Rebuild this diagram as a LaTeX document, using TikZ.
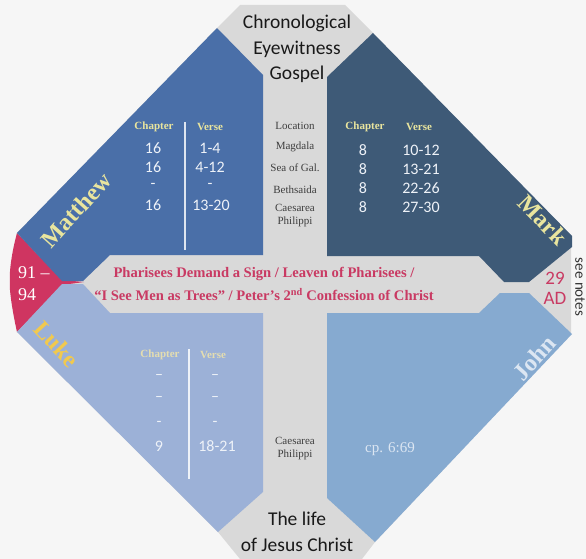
\documentclass[tikz,border=0pt]{standalone}
\usepackage{fontspec}
\setmainfont{Liberation Serif}
\newfontfamily\carl{Carlito}
\definecolor{bgc}{HTML}{F6F6F6}
\definecolor{grayc}{HTML}{D9D9D9}
\definecolor{mattc}{HTML}{4A6FA8}
\definecolor{markc}{HTML}{3E5A77}
\definecolor{lukec}{HTML}{9CB1D7}
\definecolor{johnc}{HTML}{86AAD0}
\definecolor{redc}{HTML}{CF3561}
\definecolor{redt}{HTML}{C93A63}
\definecolor{yel}{HTML}{E9E59E}
\definecolor{lukehdr}{HTML}{E4DDB0}
\definecolor{gold}{HTML}{F1C94E}
\definecolor{numc}{HTML}{EEF2F8}
\definecolor{locc}{HTML}{3E3E3E}
\definecolor{johnt}{HTML}{DCE6F2}
\begin{document}
\begin{tikzpicture}[x=1pt,y=-1pt,
  hdr/.style={font=\fontsize{11}{11}\selectfont\bfseries, text=yel, inner sep=0},
  num/.style={font=\carl\fontsize{16}{16}\selectfont, text=numc, inner sep=0},
  loc/.style={font=\fontsize{11}{13}\selectfont, text=locc, align=center, inner sep=0},
  gospel/.style={font=\fontsize{24}{24}\selectfont\bfseries, inner sep=0},
  title/.style={font=\carl\fontsize{19.5}{25.5}\selectfont, align=center, text=black!90, inner sep=0},
  divider/.style={line width=1.2pt}
]
\useasboundingbox (0,0) rectangle (586,559);
\fill[bgc] (0,0) rectangle (586,559);
% gray base
\fill[grayc] (240,5) -- (345,5) -- (373,33) -- (571,236) -- (571,334) -- (375,542) -- (362,559) -- (240,559) -- (218,532) -- (17,332) -- (10,282) -- (17,233) -- (217,28) -- cycle;
% red tip
\fill[redc] (17,233) -- (62,280) -- (84,282) -- (62,285) -- (17,332) .. controls (11,305) and (9,285) .. (10,282) .. controls (9,275) and (11,255) .. (17,233) -- cycle;
% Matthew
\fill[mattc] (217,28) -- (263,75) -- (263,255) -- (110,255) -- (83,281) -- (62,281) -- (17,233) -- cycle;
% Luke
\fill[lukec] (62,284) -- (83,284) -- (110,313) -- (263,313) -- (263,492) -- (218,532) -- (17,332) -- cycle;
% Mark
\fill[markc] (373,33) -- (572,236) -- (572,247) -- (529,282) -- (504,282) -- (479,256) -- (327,256) -- (327,77) -- cycle;
% John
\fill[johnc] (327,313) -- (479,313) -- (500,293) -- (529,293) -- (572,334) -- (375,542) -- (327,498) -- cycle;

% titles
\node[title] (toptitle) at (297,49) {Chronological\\Eyewitness\\Gospel};
\node[title] (bottitle) at (297,532) {The life\\of Jesus Christ};

% Location column
\node[loc] (loch) at (295,126) {Location};
\node[loc] (loc1) at (295,147) {Magdala};
\node[loc] (loc2) at (295,168) {Sea of Gal.};
\node[loc] (loc3) at (295,190) {Bethsaida};
\node[loc] (loc4) at (295,216) {Caesarea\\Philippi};
\node[loc] (loc5) at (295,449) {Caesarea\\Philippi};

% Matthew table
\draw[divider, draw=numc!90!mattc] (185,122) -- (185,250);
\node[hdr] (mch) at (154,127) {Chapter};
\node[hdr] (mvh) at (210,127) {Verse};
\node[num] (mc1) at (153,148) {16};
\node[num] (mv1) at (210,148) {1-4};
\node[num] (mc2) at (153,167) {16};
\node[num] (mv2) at (210,167) {4-12};
\node[num] (mc3) at (153,186) {-};
\node[num] (mv3) at (210,186) {-};
\node[num] (mc4) at (153,205) {16};
\node[num] (mv4) at (211,205) {13-20};
\node[gospel, text=yel, rotate=48] (matthew) at (76,210) {Matthew};

% Mark table
\node[hdr] (kch) at (365,127) {Chapter};
\node[hdr] (kvh) at (419,127) {Verse};
\node[num] (kc1) at (363,150) {8};
\node[num] (kv1) at (421,150) {10-12};
\node[num] (kc2) at (363,169) {8};
\node[num] (kv2) at (421,169) {13-21};
\node[num] (kc3) at (363,188) {8};
\node[num] (kv3) at (421,188) {22-26};
\node[num] (kc4) at (363,207) {8};
\node[num] (kv4) at (421,207) {27-30};
\node[gospel, text=yel, rotate=-46] (mark) at (543,220) {Mark};

% Luke table
\draw[divider, draw=numc] (189,349) -- (189,479);
\node[hdr, text=lukehdr] (lch) at (160,355) {Chapter};
\node[hdr, text=lukehdr] (lvh) at (213,355) {Verse};
\node[num] (lc1) at (159,377) {–};
\node[num] (lv1) at (215,377) {–};
\node[num] (lc2) at (159,399) {–};
\node[num] (lv2) at (215,399) {–};
\node[num] (lc3) at (159,424) {-};
\node[num] (lv3) at (215,424) {-};
\node[num] (lc4) at (159,446) {9};
\node[num] (lv4) at (217,446) {18-21};
\node[gospel, text=gold, rotate=-47] (luke) at (57,344) {Luke};

% John
\node[gospel, text=johnt, rotate=48] (john) at (534,358) {John};
\node[font=\fontsize{15}{15}\selectfont, text=johnt, inner sep=0] (cp) at (390,449) {cp. 6:69};

% central band
\node[font=\fontsize{14.6}{23}\selectfont\bfseries, text=redt, align=center, inner sep=0] (band) at (264,284)
  {Pharisees Demand a Sign / Leaven of Pharisees /\\“I See Men as Trees” / Peter’s 2\textsuperscript{nd} Confession of Christ};

% left red text
\node[font=\fontsize{18}{22}\selectfont, text=white, anchor=west, inner sep=0] (y1) at (18,273) {91 –};
\node[font=\fontsize{18}{22}\selectfont, text=white, anchor=west, inner sep=0] (y2) at (18,295) {94};

% right
\node[font=\carl\fontsize{19}{20}\selectfont, text=redt, align=center, inner sep=0] (ad) at (555,288) {29\\AD};
\node[font=\carl\fontsize{15}{15}\selectfont, text=black!80, rotate=-90, inner sep=0] (notes) at (580,287) {see notes};
\end{tikzpicture}
\end{document}
